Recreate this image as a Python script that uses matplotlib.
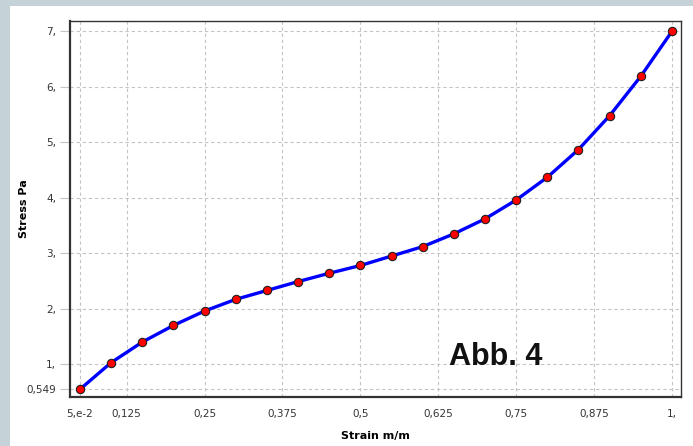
import matplotlib.pyplot as plt

# Data
strain = [0.05, 0.1, 0.15, 0.2, 0.25, 0.3, 0.35, 0.4, 0.45, 0.5,
          0.55, 0.6, 0.65, 0.7, 0.75, 0.8, 0.85, 0.9, 0.95, 1.0]
stress = [0.549, 1.03, 1.40, 1.70, 1.96, 2.17, 2.33, 2.49, 2.64, 2.78,
          2.95, 3.12, 3.35, 3.62, 3.96, 4.37, 4.87, 5.48, 6.19, 7.0]

xticks = [0.05, 0.125, 0.25, 0.375, 0.5, 0.625, 0.75, 0.875, 1.0]
xticklabels = ['5,e-2', '0,125', '0,25', '0,375', '0,5', '0,625', '0,75', '0,875', '1,']
yticks = [0.549, 1, 2, 3, 4, 5, 6, 7]
yticklabels = ['0,549', '1,', '2,', '3,', '4,', '5,', '6,', '7,']

fig = plt.figure(figsize=(6.93, 4.46), dpi=100)
fig.patch.set_facecolor('#c5d3d9')

# white panel behind the chart
bg = fig.add_axes([10/693, 0, 1 - 10/693, 1 - 6/446], zorder=-1)
bg.set_facecolor('white')
bg.set_xticks([])
bg.set_yticks([])
for s in bg.spines.values():
    s.set_visible(False)

ax = fig.add_axes([70/693, 1 - 397/446, 611/693, 376/446], zorder=1)
ax.plot(strain, stress, color='#0000ff', lw=2.4, zorder=3)
ax.plot(strain, stress, 'o', ms=6, mfc='#ff0000', mec='#202020', mew=0.8, zorder=4)

ax.set_xlim(0.034, 1.0145)
ax.set_ylim(0.41, 7.186)
ax.set_xticks(xticks)
ax.set_xticklabels(xticklabels)
ax.set_yticks(yticks)
ax.set_yticklabels(yticklabels)
ax.tick_params(labelsize=7.5, length=7, width=0.8, pad=3)
ax.tick_params(axis='x', colors='#c4c4c4', labelcolor='#333333', length=0, pad=9)
ax.tick_params(axis='y', colors='#c4c4c4', labelcolor='#333333')
ax.grid(True, color='#c4c4c4', ls=(0, (3, 2.5)), lw=0.8)

for s in ax.spines.values():
    s.set_color('#333333')
ax.spines['left'].set_linewidth(1.6)
ax.spines['bottom'].set_linewidth(1.6)
ax.spines['top'].set_linewidth(1.0)
ax.spines['right'].set_linewidth(1.0)

ax.set_xlabel('Strain m/m', fontsize=8, fontweight='bold', labelpad=8)
ax.set_ylabel('Stress Pa', fontsize=8, fontweight='bold', labelpad=-2)

ax.text((496 - 70) / 611, 1 - (357 - 21) / 376, 'Abb. 4',
        transform=ax.transAxes, ha='center', va='center',
        fontsize=22, fontweight='bold', family='Liberation Sans', color='#111111')

fig.savefig('out.png', dpi=100, facecolor=fig.get_facecolor())
